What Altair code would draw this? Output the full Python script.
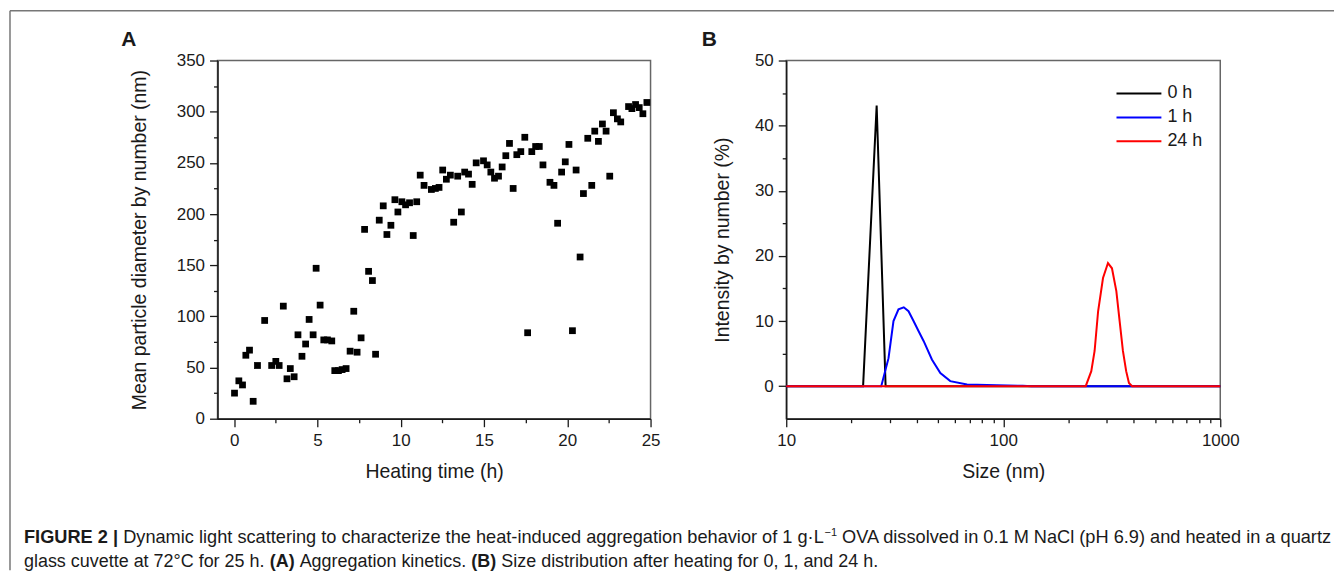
import altair as alt
import pandas as pd

# ---------------- Panel A: aggregation kinetics ----------------
heating_time_h = [0.02, 0.28, 0.5, 0.7, 0.92, 1.14, 1.4, 1.83, 2.25, 2.5, 2.7, 2.95, 3.17, 3.37, 3.6,
                  3.83, 4.07, 4.29, 4.5, 4.74, 4.92, 5.16, 5.38, 5.6, 5.86, 6.04, 6.26, 6.48, 6.72,
                  6.96, 7.18, 7.38, 7.62, 7.83, 8.07, 8.3, 8.49, 8.71, 8.95, 9.17, 9.41, 9.65, 9.83,
                  10.07, 10.29, 10.53, 10.75, 10.96, 11.17, 11.4, 11.84, 12.08, 12.3, 12.52, 12.74,
                  12.98, 13.18, 13.42, 13.64, 13.84, 14.07, 14.29, 14.53, 14.97, 15.19, 15.41, 15.63,
                  15.87, 16.09, 16.31, 16.53, 16.75, 16.97, 17.21, 17.45, 17.62, 17.87, 18.1, 18.32,
                  18.54, 18.96, 19.2, 19.42, 19.66, 19.88, 20.1, 20.31, 20.53, 20.77, 20.97, 21.23,
                  21.47, 21.65, 21.87, 22.11, 22.33, 22.55, 22.77, 23.01, 23.21, 23.68, 23.88, 24.1,
                  24.32, 24.54, 24.78]
mean_diameter_nm = [25, 37, 33, 62, 67, 17, 52, 96, 52, 56, 52, 110, 39, 49, 41,
                    82, 61, 73, 97, 82, 147, 111, 77, 77, 76, 47, 47, 48, 49,
                    66, 105, 65, 79, 185, 144, 135, 63, 194, 208, 180, 189, 214, 202,
                    212, 209, 211, 179, 212, 238, 228, 224, 225, 226, 243, 234,
                    238, 192, 237, 202, 241, 239, 229, 250, 252, 248, 241, 235,
                    237, 246, 257, 269, 225, 258, 261, 275, 84, 261, 266, 266,
                    248, 231, 228, 191, 241, 251, 268, 86, 243, 158, 220, 274,
                    228, 281, 271, 288, 281, 237, 299, 293, 290, 305, 303, 307,
                    304, 298, 309]

# ---------------- Panel B: size distributions ----------------
series_labels = ["0 h", "1 h", "24 h"]
series_colors = ["#000000", "#0000ff", "#ff0000"]

size_0h = [10, 22.6, 26.1, 28.7, 1000]
intensity_0h = [0, 0, 43.1, 0, 0]

size_1h = [10, 27.4, 29.6, 31.2, 32.9, 34.8, 36.6, 38.6, 40.8, 43.0, 46.9, 51.3, 57.0,
           68.1, 93.4, 123.0, 135, 1000]
intensity_1h = [0, 0, 4.3, 10.0, 11.8, 12.1, 11.5, 10.0, 8.4, 6.9, 4.1, 2.0, 0.77,
                0.26, 0.15, 0.05, 0, 0]

size_24h = [10, 239.9, 254.5, 263.6, 273.6, 288.2, 303.8, 316.9, 332.0, 343.8, 356.0,
            368.5, 379.5, 392.5, 1000]
intensity_24h = [0, 0, 2.3, 5.4, 11.5, 16.6, 18.9, 18.1, 14.6, 10.0, 5.4, 2.3, 0.5, 0, 0]

FONT = "Liberation Sans"
INK = "#1a1a1a"

dfA = pd.DataFrame({"t": heating_time_h, "d": mean_diameter_nm})
rows = []
for lab, xs, ys in zip(series_labels, [size_0h, size_1h, size_24h],
                       [intensity_0h, intensity_1h, intensity_24h]):
    for i, (x, y) in enumerate(zip(xs, ys)):
        rows.append({"series": lab, "size": x, "intensity": y, "i": i})
dfB = pd.DataFrame(rows)

WA, HA = 434, 359
WB, HB = 435, 359

axis_common = dict(domainColor=INK, domainWidth=1.5, tickColor=INK, tickWidth=1.3,
                   labelFont=FONT, labelFontSize=17, labelColor=INK, labelFlush=False,
                   titleFont=FONT, titleFontSize=19.5, titleFontWeight="normal",
                   titleColor=INK, grid=False, labelOverlap=False)


def tick_cond(test):
    return {"condition": {"test": test, "value": 8}, "value": 4}


def vtext(text, x, y, size, weight="normal", align="left", baseline="alphabetic", color=INK):
    return alt.Chart(alt.Data(values=[{"k": 0}])).mark_text(
        text=text, font=FONT, fontSize=size, fontWeight=weight, align=align,
        baseline=baseline, color=color).encode(x=alt.value(x), y=alt.value(y))


def vrule(x, y, x2=None, y2=None, color="#777777", width=1.5):
    enc = dict(x=alt.value(x), y=alt.value(y))
    if x2 is not None:
        enc["x2"] = alt.value(x2)
    if y2 is not None:
        enc["y2"] = alt.value(y2)
    return alt.Chart(alt.Data(values=[{"k": 0}])).mark_rule(
        color=color, strokeWidth=width).encode(**enc)


# ---- Panel A ----
xA = alt.X("t:Q", scale=alt.Scale(domain=[-1, 25], nice=False, zero=False),
           axis=alt.Axis(title="Heating time (h)",
                         values=[0, 2.5, 5, 7.5, 10, 12.5, 15, 17.5, 20, 22.5, 25],
                         labelExpr="datum.value % 5 == 0 ? datum.label : ''",
                         tickSize=tick_cond("datum.value % 5 == 0"),
                         labelPadding=6, titlePadding=14, **axis_common))
yA = alt.Y("d:Q", scale=alt.Scale(domain=[0, 350], nice=False),
           axis=alt.Axis(title="Mean particle diameter by number (nm)",
                         values=list(range(0, 351, 25)),
                         labelExpr="datum.value % 50 == 0 ? datum.label : ''",
                         tickSize=tick_cond("datum.value % 50 == 0"),
                         labelPadding=5, titlePadding=27, **axis_common))

points = alt.Chart(dfA).mark_square(size=46, color="black", opacity=1).encode(x=xA, y=yA)

REG = {' ': 278, '!': 278, '(': 333, ')': 333, ',': 278, '-': 333, '.': 278, ':': 278,
       'A': 667, 'B': 667, 'C': 722, 'D': 722, 'E': 667, 'F': 611, 'G': 778, 'H': 722,
       'I': 278, 'J': 500, 'K': 667, 'L': 556, 'M': 833, 'N': 722, 'O': 778, 'P': 667,
       'Q': 778, 'R': 722, 'S': 667, 'T': 611, 'U': 722, 'V': 667, 'W': 944, 'X': 667,
       'Y': 667, 'Z': 611, 'a': 556, 'b': 556, 'c': 500, 'd': 556, 'e': 556, 'f': 278,
       'g': 556, 'h': 556, 'i': 222, 'j': 222, 'k': 500, 'l': 222, 'm': 833, 'n': 556,
       'o': 556, 'p': 556, 'q': 556, 'r': 333, 's': 500, 't': 278, 'u': 556, 'v': 500,
       'w': 722, 'x': 500, 'y': 500, 'z': 500, '|': 260, '°': 400, '·': 278, '−': 584}
BOLD = {' ': 278, '(': 333, ')': 333, '|': 280, 'A': 722, 'B': 722, 'E': 667, 'F': 611,
        'G': 778, 'I': 278, 'R': 722, 'U': 722}


def text_w(s, size, bold=False):
    tab = BOLD if bold else REG
    return sum(tab.get(c, 556) for c in s) * size / 1000.0


SUP = 11
cap_line1 = [("FIGURE 2 |", "bold"),
             (" Dynamic light scattering to characterize the heat-induced aggregation behavior of 1 g·L", "normal"),
             ("−1", "sup"),
             (" OVA dissolved in 0.1 M NaCl (pH 6.9) and heated in a quartz", "normal")]
cap_line2 = [("glass cuvette at 72°C for 25 h.", "normal"),
             (" (A)", "bold"),
             (" Aggregation kinetics.", "normal"),
             (" (B)", "bold"),
             (" Size distribution after heating for 0, 1, and 24 h.", "normal")]

annot = []
X0 = -194
for line, base, cap in [(cap_line1, 484, 18.25), (cap_line2, 508, 18)]:
    cx = X0
    for seg, kind in line:
        size = SUP if kind == "sup" else cap
        bold = kind == "bold"
        lead = len(seg) - len(seg.lstrip(" "))
        cx += text_w(" " * lead, size, bold)
        core = seg.strip(" ")
        if kind == "sup":
            annot.append(vtext(core, cx + 1, base - 7, size))
        else:
            annot.append(vtext(core, cx, base, size, weight=kind))
        cx += text_w(core, size, bold) + (1 if kind == "sup" else 0)

annot += [vtext("A", -89, -21, 21, weight="bold", align="center", baseline="middle"),
          vtext("B", 493, -21, 21, weight="bold", align="center", baseline="middle"),
          vrule(-208, -50, x2=1119),
          vrule(-208, -50, y2=511)]

panelA = alt.layer(points, *annot).properties(width=WA, height=HA)

# ---- Panel B ----
xB = alt.X("size:Q", scale=alt.Scale(type="log", domain=[10, 1000], nice=False),
           axis=alt.Axis(title="Size (nm)",
                         values=[10, 20, 30, 40, 50, 60, 70, 80, 90, 100, 200, 300, 400,
                                 500, 600, 700, 800, 900, 1000],
                         format="d",
                         labelExpr="indexof([10, 100, 1000], datum.value) >= 0 ? datum.label : ''",
                         tickSize=tick_cond("indexof([10, 100, 1000], datum.value) >= 0"),
                         labelPadding=6, titlePadding=14, **axis_common))
yB = alt.Y("intensity:Q", scale=alt.Scale(domain=[-5, 50], nice=False, zero=False),
           axis=alt.Axis(title="Intensity by number (%)",
                         values=list(range(0, 51, 5)),
                         labelExpr="datum.value % 10 == 0 ? datum.label : ''",
                         tickSize=tick_cond("datum.value % 10 == 0"),
                         labelPadding=5, titlePadding=22, **axis_common))
colorB = alt.Color("series:N",
                   scale=alt.Scale(domain=series_labels, range=series_colors),
                   legend=None)

lines = [alt.Chart(dfB).transform_filter(alt.datum.series == lab)
         .mark_line(strokeWidth=2, interpolate="linear")
         .encode(x=xB, y=yB, color=colorB, order="i:Q")
         for lab in series_labels]

legend_items = []
for k, (lab, col) in enumerate(zip(series_labels, series_colors)):
    ly = 33 + 24 * k
    legend_items.append(vrule(331, ly, x2=376, color=col, width=2))
    legend_items.append(vtext(lab, 382, ly, 18, baseline="middle"))

panelB = alt.layer(*lines, *legend_items).properties(width=WB, height=HB)

chart = (alt.hconcat(panelA, panelB, spacing=136, bounds="flush")
         .properties(padding=0, background="white")
         .configure_view(stroke="#666666", strokeWidth=1.5))

chart.save("out.html", embed_options={"renderer": "svg", "actions": False})
